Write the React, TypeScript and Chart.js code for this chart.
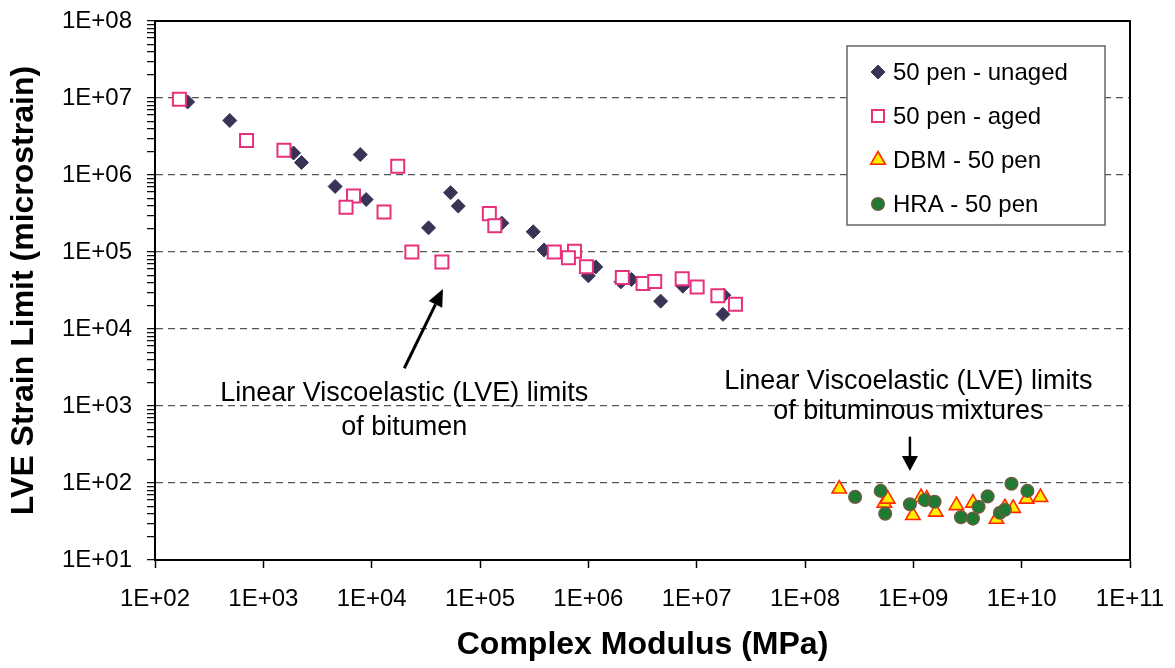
import React, { useEffect, useRef } from 'react';
import { Chart, registerables } from 'chart.js';

Chart.register(...registerables);

// ---------- data ----------
const unagedModulus = [2.0e2, 4.9e2, 1.9e3, 2.25e3, 7.85e3, 4.6e3, 8.9e3, 3.35e4, 5.35e4, 6.3e4, 1.59e5, 3.1e5, 3.9e5, 1.0e6, 1.17e6, 2.0e6, 2.5e6, 4.65e6, 7.45e6, 1.78e7, 1.75e7];
const unagedStrain = [8.9e6, 5.1e6, 1.93e6, 1.45e6, 1.84e6, 7.1e5, 4.8e5, 2.06e5, 5.9e5, 3.95e5, 2.37e5, 1.83e5, 1.06e5, 4.9e4, 6.4e4, 4.1e4, 4.4e4, 2.3e4, 3.6e4, 2.75e4, 1.55e4];

const agedModulus = [1.68e2, 7.0e2, 1.55e3, 1.74e4, 6.8e3, 5.8e3, 1.3e4, 2.35e4, 4.45e4, 1.22e5, 1.37e5, 4.85e5, 7.45e5, 6.55e5, 9.6e5, 2.06e6, 3.2e6, 4.1e6, 7.35e6, 1.01e7, 1.57e7, 2.28e7];
const agedStrain = [9.6e6, 2.8e6, 2.1e6, 1.3e6, 5.35e5, 3.8e5, 3.3e5, 1.0e5, 7.4e4, 3.15e5, 2.2e5, 1.0e5, 1.02e5, 8.4e4, 6.45e4, 4.65e4, 3.9e4, 4.15e4, 4.5e4, 3.5e4, 2.7e4, 2.1e4];

const dbmModulus = [2.07e8, 5.4e8, 5.8e8, 9.9e8, 1.18e9, 1.33e9, 1.61e9, 2.5e9, 3.55e9, 5.85e9, 7.0e9, 8.35e9, 1.11e10, 1.49e10];
const dbmStrain = [84, 55, 62, 38, 65, 62, 42, 51, 55, 34, 48, 47, 62, 65];

const hraModulus = [2.9e8, 5.0e8, 5.5e8, 9.3e8, 1.28e9, 1.57e9, 2.75e9, 3.55e9, 4.0e9, 4.85e9, 6.3e9, 7.0e9, 8.05e9, 1.13e10];
const hraStrain = [66, 79, 40, 53, 60, 57, 36, 34.5, 49, 67, 41, 45, 98, 79];

const seriesLabels = ['50 pen - unaged', '50 pen - aged', 'DBM - 50 pen', 'HRA - 50 pen'];

const xTickValues = [1e2, 1e3, 1e4, 1e5, 1e6, 1e7, 1e8, 1e9, 1e10, 1e11];
const yDecadeExponents = [1, 2, 3, 4, 5, 6, 7];
const yMinorSignificands = [1, 2, 3, 4, 5, 6, 7, 8, 9];

const xTitle = 'Complex Modulus (MPa)';
const yTitle = 'LVE Strain Limit (microstrain)';

const bitumenNoteLines = ['Linear Viscoelastic (LVE) limits', 'of bitumen'];
const mixtureNoteLines = ['Linear Viscoelastic (LVE) limits', 'of bituminous mixtures'];

// ---------- helpers ----------
const FONT = '"Liberation Sans", Arial, Helvetica, sans-serif';

function isDecade(v: number) {
  const l = Math.log10(v);
  return Math.abs(l - Math.round(l)) < 1e-9;
}
function expLabel(v: number) {
  const e = Math.round(Math.log10(v));
  return '1E+' + String(e).padStart(2, '0');
}

function drawMarker(ctx: CanvasRenderingContext2D, style: string, x: number, y: number, r: number, fill: string, stroke: string, lw: number) {
  ctx.save();
  ctx.beginPath();
  if (style === 'rectRot') {
    ctx.moveTo(x, y - r);
    ctx.lineTo(x + r, y);
    ctx.lineTo(x, y + r);
    ctx.lineTo(x - r, y);
    ctx.closePath();
  } else if (style === 'rect') {
    const h = r * Math.SQRT1_2;
    ctx.rect(x - h, y - h, 2 * h, 2 * h);
  } else if (style === 'triangle') {
    let a = 0;
    ctx.moveTo(x + Math.sin(a) * r, y - Math.cos(a) * r);
    a += (2 * Math.PI) / 3;
    ctx.lineTo(x + Math.sin(a) * r, y - Math.cos(a) * r);
    a += (2 * Math.PI) / 3;
    ctx.lineTo(x + Math.sin(a) * r, y - Math.cos(a) * r);
    ctx.closePath();
  } else {
    ctx.arc(x, y, r, 0, Math.PI * 2);
  }
  ctx.fillStyle = fill;
  ctx.fill();
  ctx.lineWidth = lw;
  ctx.strokeStyle = stroke;
  ctx.stroke();
  ctx.restore();
}

function drawArrow(ctx: CanvasRenderingContext2D, x1: number, y1: number, x2: number, y2: number, headLen: number, headHalf: number, lw: number) {
  const ang = Math.atan2(y2 - y1, x2 - x1);
  const bx = x2 - Math.cos(ang) * headLen;
  const by = y2 - Math.sin(ang) * headLen;
  ctx.save();
  ctx.strokeStyle = '#000';
  ctx.fillStyle = '#000';
  ctx.lineWidth = lw;
  ctx.beginPath();
  ctx.moveTo(x1, y1);
  ctx.lineTo(bx, by);
  ctx.stroke();
  ctx.beginPath();
  ctx.moveTo(x2, y2);
  ctx.lineTo(bx + Math.sin(ang) * headHalf, by - Math.cos(ang) * headHalf);
  ctx.lineTo(bx - Math.sin(ang) * headHalf, by + Math.cos(ang) * headHalf);
  ctx.closePath();
  ctx.fill();
  ctx.restore();
}

const legendMarkerRadius = [7, 8.5, 8.5, 6.3];

const decorPlugin = {
  id: 'decor',
  afterDraw(chart: any) {
    const { ctx, chartArea, scales } = chart;
    const xs = scales.x;
    const ys = scales.y;

    // frame (top & right)
    ctx.save();
    ctx.strokeStyle = '#000';
    ctx.lineWidth = 2;
    ctx.beginPath();
    ctx.moveTo(chartArea.left, chartArea.top);
    ctx.lineTo(chartArea.right, chartArea.top);
    ctx.lineTo(chartArea.right, chartArea.bottom);
    ctx.stroke();
    ctx.restore();

    // annotations
    ctx.save();
    ctx.fillStyle = '#000';
    ctx.font = '27px ' + FONT;
    ctx.textAlign = 'center';
    ctx.textBaseline = 'middle';
    const bx = xs.getPixelForValue(2.0e4);
    const by = ys.getPixelForValue(1440);
    bitumenNoteLines.forEach((t, i) => ctx.fillText(t, bx, by + i * 34));
    const mx = xs.getPixelForValue(9.0e8);
    const my = ys.getPixelForValue(2050);
    mixtureNoteLines.forEach((t, i) => ctx.fillText(t, mx, my + i * 30));
    ctx.restore();

    drawArrow(ctx, xs.getPixelForValue(2.0e4), ys.getPixelForValue(3090), xs.getPixelForValue(4.55e4), ys.getPixelForValue(3.3e4), 17, 7.5, 3);
    const ax = xs.getPixelForValue(9.3e8);
    drawArrow(ctx, ax, ys.getPixelForValue(400), ax, ys.getPixelForValue(143), 15, 8, 2.5);

    // legend box
    const left = chartArea.right - 283;
    const top = chartArea.top + 25;
    const w = 258;
    const h = 179;
    ctx.save();
    ctx.fillStyle = '#fff';
    ctx.fillRect(left, top, w, h);
    ctx.strokeStyle = '#666';
    ctx.lineWidth = 1.5;
    ctx.strokeRect(left, top, w, h);
    chart.data.datasets.forEach((ds: any, i: number) => {
      const cy = top + 26 + i * 44;
      drawMarker(ctx, ds.pointStyle, left + 31, cy, legendMarkerRadius[i], ds.backgroundColor, ds.borderColor, ds.borderWidth);
      ctx.fillStyle = '#000';
      ctx.font = '24px ' + FONT;
      ctx.textAlign = 'left';
      ctx.textBaseline = 'middle';
      ctx.fillText(ds.label, left + 46, cy + 1);
    });
    ctx.restore();
  },
};

function toPoints(xs: number[], ys: number[]) {
  return xs.map((x, i) => ({ x, y: ys[i] }));
}

export default function App() {
  const canvasRef = useRef<HTMLCanvasElement | null>(null);

  useEffect(() => {
    if (!canvasRef.current) return;
    const yTicks: number[] = [];
    yDecadeExponents.forEach((e) => yMinorSignificands.forEach((s) => yTicks.push(s * Math.pow(10, e))));
    yTicks.push(1e8);

    const chart = new Chart(canvasRef.current, {
      type: 'scatter',
      data: {
        datasets: [
          {
            label: seriesLabels[0],
            data: toPoints(unagedModulus, unagedStrain),
            pointStyle: 'rectRot',
            pointRadius: 7,
            backgroundColor: '#3b3356',
            borderColor: '#3b3356',
            borderWidth: 1,
            order: 4,
          },
          {
            label: seriesLabels[1],
            data: toPoints(agedModulus, agedStrain),
            pointStyle: 'rect',
            pointRadius: 9.2,
            backgroundColor: '#ffffff',
            borderColor: '#e8317c',
            borderWidth: 2,
            order: 3,
          },
          {
            label: seriesLabels[2],
            data: toPoints(dbmModulus, dbmStrain),
            pointStyle: 'triangle',
            pointRadius: 8.3,
            backgroundColor: '#ffee00',
            borderColor: '#ff2a00',
            borderWidth: 1.6,
            order: 2,
          },
          {
            label: seriesLabels[3],
            data: toPoints(hraModulus, hraStrain),
            pointStyle: 'circle',
            pointRadius: 6.3,
            backgroundColor: '#1f7a32',
            borderColor: '#6b5d42',
            borderWidth: 1.5,
            order: 1,
          },
        ] as any,
      },
      options: {
        animation: false,
        responsive: true,
        maintainAspectRatio: false,
        layout: { padding: { top: 21, right: 45, left: 0, bottom: 0 } },
        plugins: { legend: { display: false }, tooltip: { enabled: false } },
        scales: {
          x: {
            type: 'logarithmic',
            position: 'bottom',
            min: 1e2,
            max: 1e11,
            afterBuildTicks: (s: any) => {
              s.ticks = xTickValues.map((v) => ({ value: v }));
            },
            afterFit: (s: any) => {
              s.height = 108;
              s.paddingLeft = 0;
              s.paddingRight = 0;
            },
            ticks: {
              autoSkip: false,
              maxRotation: 0,
              padding: 17,
              color: '#000',
              font: { family: FONT, size: 24 },
              callback: (v: any) => expLabel(Number(v)),
            },
            grid: { drawOnChartArea: false, drawTicks: true, tickLength: 8, tickColor: '#000', tickWidth: 1.5 },
            border: { display: true, color: '#000', width: 2 },
            title: {
              display: true,
              text: xTitle,
              color: '#000',
              font: { family: FONT, size: 32, weight: 'bold' },
              padding: { top: 0, bottom: 4 },
            },
          },
          y: {
            type: 'logarithmic',
            position: 'left',
            min: 1e1,
            max: 1e8,
            afterBuildTicks: (s: any) => {
              s.ticks = yTicks.map((v) => ({ value: v, major: isDecade(v) }));
            },
            afterFit: (s: any) => {
              s.width = 155;
              s.paddingTop = 0;
              s.paddingBottom = 0;
            },
            ticks: {
              autoSkip: false,
              padding: 15,
              color: '#000',
              font: { family: FONT, size: 24 },
              callback: (v: any) => (isDecade(Number(v)) ? expLabel(Number(v)) : ''),
            },
            grid: {
              drawOnChartArea: true,
              drawTicks: true,
              tickLength: 8,
              lineWidth: 1.3,
              color: (c: any) => {
                const v = c.tick ? c.tick.value : 0;
                return v && isDecade(v) && v > 1e1 && v < 1e8 ? '#555555' : 'rgba(0,0,0,0)';
              },
              tickColor: '#000',
              tickWidth: 1.2,
            },
            border: { display: true, color: '#000', width: 2, dash: [7, 5] },
            title: {
              display: true,
              text: yTitle,
              color: '#000',
              font: { family: FONT, size: 32, weight: 'bold' },
              padding: { top: 5, bottom: 0 },
            },
          },
        },
      } as any,
      plugins: [decorPlugin],
    });
    return () => chart.destroy();
  }, []);

  return (
    <div style={{ position: 'fixed', left: 0, top: 0, width: 1175, height: 668, background: '#fff' }}>
      <canvas ref={canvasRef} />
    </div>
  );
}
